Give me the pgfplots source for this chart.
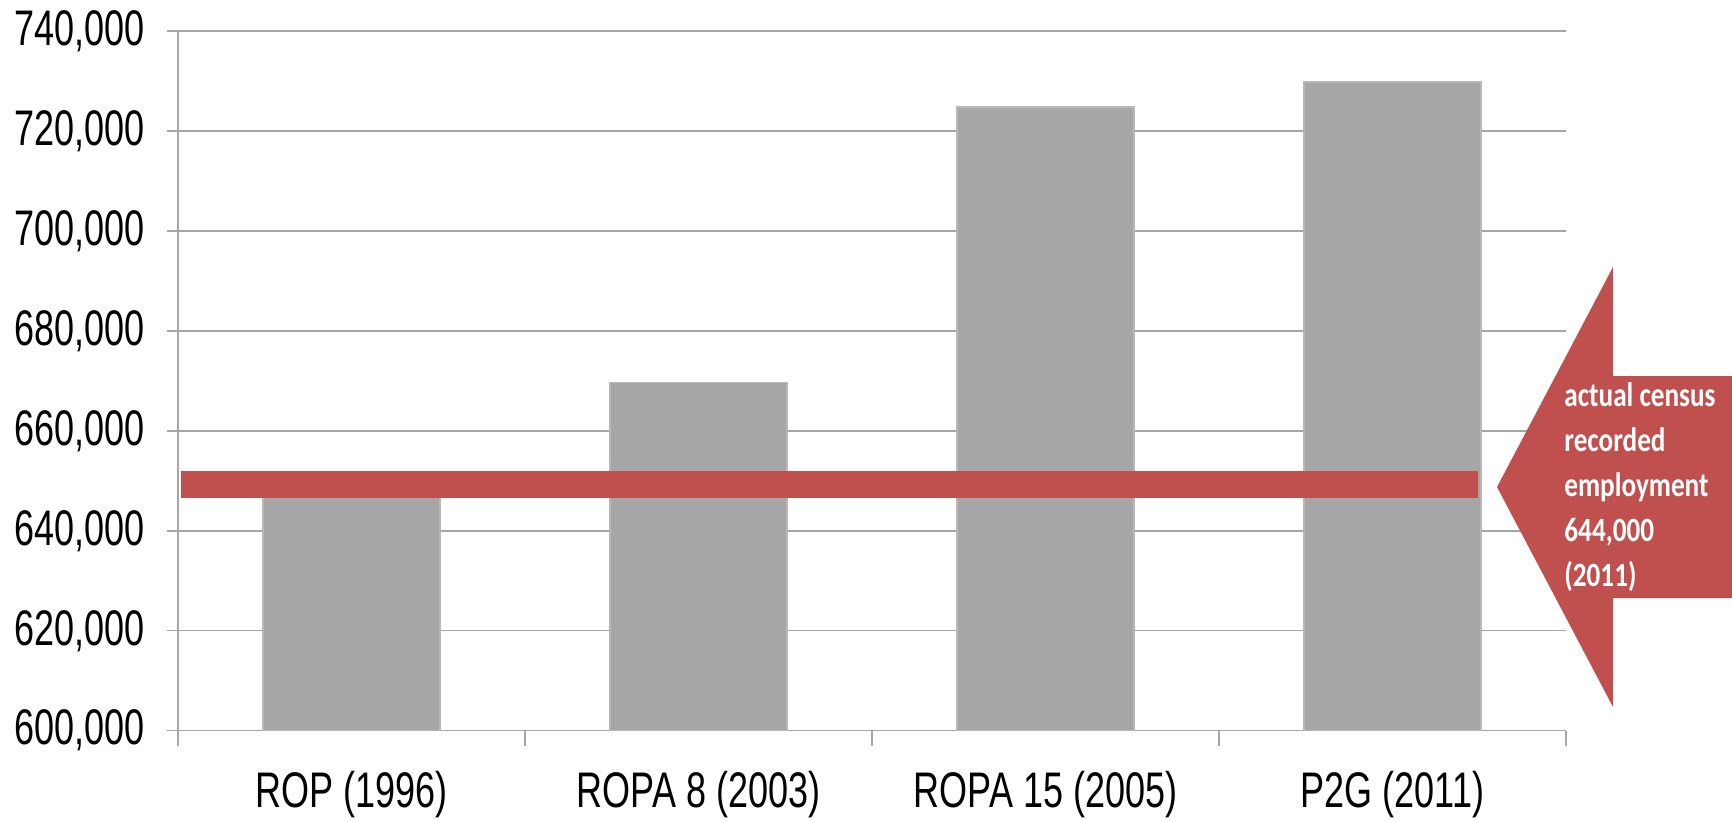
\documentclass[border=0pt]{standalone}
\usepackage{fontspec}
\usepackage{pgfplots}
\pgfplotsset{compat=1.18}
\setmainfont{Liberation Sans}
\newfontfamily\ticknarrow[FakeStretch=0.72]{Liberation Sans}
\newfontfamily\calloutfont[FakeStretch=0.8]{Carlito}
\definecolor{barfill}{RGB}{166,166,166}
\definecolor{gridgray}{RGB}{166,166,166}
\definecolor{census}{RGB}{192,80,77}
\begin{document}
\begin{tikzpicture}
\useasboundingbox (-89pt,-44.65pt) rectangle (777pt,365.35pt);
\begin{axis}[
  at={(0pt,0pt)}, anchor=south west,
  scale only axis, width=694pt, height=349.85pt,
  xmin=-0.5, xmax=3.5, ymin=600000, ymax=740000,
  axis x line=bottom, axis y line=left,
  axis line style={draw=gridgray, line width=0.75pt, -},
  y axis line style={shorten <=-7.5pt},
  xtick={0,1,2,3},
  xticklabels={ROP (1996), ROPA 8 (2003), ROPA 15 (2005), P2G (2011)},
  minor xtick={-0.5,0.5,1.5,2.5,3.5},
  major x tick style={draw=none},
  minor x tick style={draw=gridgray, line width=0.75pt},
  minor tick length=7.5pt,
  ytick={600000,620000,640000,660000,680000,700000,720000,740000},
  ytick style={draw=gridgray, line width=0.75pt},
  major tick length=5.5pt,
  tick align=outside,
  ymajorgrids,
  grid style={draw=gridgray, line width=0.75pt},
  scaled y ticks=false,
  ticklabel style={font=\ticknarrow\fontsize{25}{30}\selectfont, text=black},
  yticklabel style={anchor=east, inner sep=0pt, xshift=-11pt},
  xticklabel style={anchor=base, inner sep=0pt, yshift=-33pt},
  /pgf/number format/fixed,
  /pgf/number format/1000 sep={,},
  /pgf/number format/assume math mode=true,
  clip=false,
]
\addplot[ybar, bar width=88.5pt, fill=barfill, draw=barfill!80!white, line width=0.75pt]
  coordinates {(0,648000) (1,669700) (2,724800) (3,729800)};
\addplot[census, line width=13.5pt, no marks]
  coordinates {(-0.49,649200) (3.246,649200)};
\end{axis}
\fill[census] (659.5pt,121.85pt) -- (717.5pt,231.85pt) -- (717.5pt,177.35pt)
  -- (780pt,177.35pt) -- (780pt,66.35pt) -- (717.5pt,66.35pt)
  -- (717.5pt,11.85pt) -- cycle;
\begin{scope}[every node/.style={anchor=base west, inner sep=0pt, text=white,
    font=\calloutfont\bfseries\fontsize{17}{20}\selectfont}]
\node at (693pt,162pt) {actual census};
\node at (693pt,139.5pt) {recorded};
\node at (693pt,117pt) {employment};
\node at (693pt,94.5pt) {644,000};
\node at (693pt,72pt) {(2011)};
\end{scope}
\end{tikzpicture}
\end{document}
